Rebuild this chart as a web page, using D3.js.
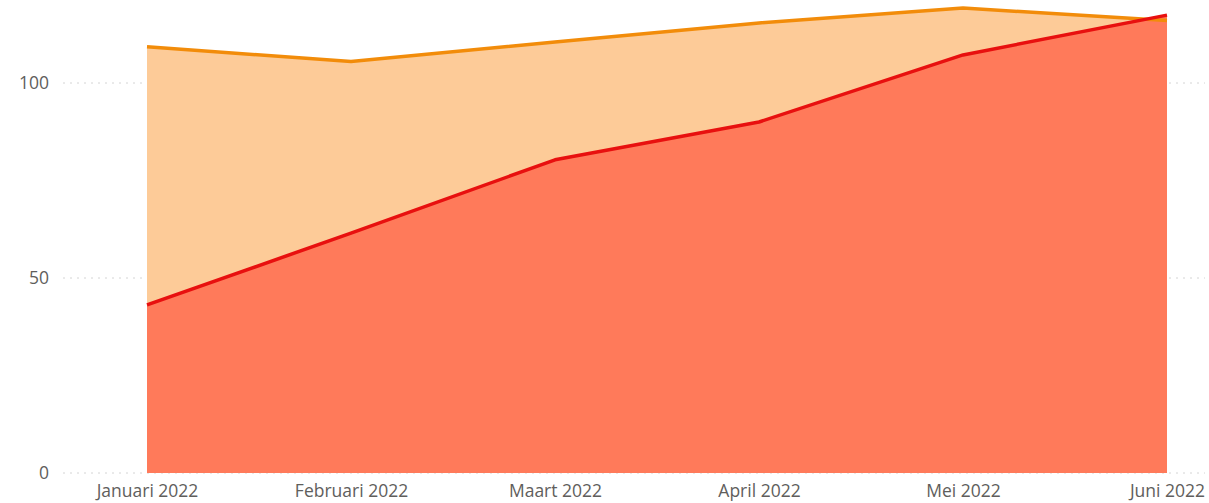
<!DOCTYPE html>
<html>
<head>
<meta charset="utf-8">
<script src="https://cdn.jsdelivr.net/npm/d3@7"></script>
<style>
  html, body { margin: 0; padding: 0; background: #fff; }
  svg { display: block; }
  .tick text { font-family: "Segoe UI", "Open Sans", "Noto Sans", sans-serif; fill: #605E5C; font-size: 17.5px; }
</style>
</head>
<body>
<svg id="chart" width="1209" height="503"></svg>
<script>
// Monthly values for two series
const months = ["Januari 2022", "Februari 2022", "Maart 2022", "April 2022", "Mei 2022", "Juni 2022"];
const target = [109.3, 105.5, 110.5, 115.4, 119.2, 116.0];
const actual = [43.1, 61.5, 80.3, 90.0, 107.2, 117.4];
const yTicks = [0, 50, 100];

const svg = d3.select("#chart");

const x = d3.scalePoint().domain(months).range([147, 1167]);
const y = d3.scaleLinear().domain([0, 100]).range([473, 83]);

// dotted horizontal gridlines
svg.append("g")
  .selectAll("line")
  .data(yTicks)
  .join("line")
  .attr("x1", 63).attr("x2", 1205)
  .attr("y1", d => y(d)).attr("y2", d => y(d))
  .attr("stroke", "#D4D4D4")
  .attr("stroke-width", 1)
  .attr("stroke-dasharray", "2,5");

const pts = (vals) => months.map((m, i) => [m, vals[i]]);

const area = d3.area().x(d => x(d[0])).y0(y(0)).y1(d => y(d[1]));
const line = d3.line().x(d => x(d[0])).y(d => y(d[1]));

// back series (light orange)
svg.append("path").datum(pts(target)).attr("d", area).attr("fill", "#FDCB98");
// front series (coral red)
svg.append("path").datum(pts(actual)).attr("d", area).attr("fill", "#FF7A5A");

svg.append("path").datum(pts(target)).attr("d", line)
  .attr("fill", "none").attr("stroke", "#F28C0A").attr("stroke-width", 3.5).attr("stroke-linejoin", "round");
svg.append("path").datum(pts(actual)).attr("d", line)
  .attr("fill", "none").attr("stroke", "#E8100F").attr("stroke-width", 3.5).attr("stroke-linejoin", "round");

// axes
const yAxis = svg.append("g").attr("transform", "translate(49,0)")
  .call(d3.axisLeft(y).tickValues(yTicks).tickSize(0).tickPadding(0));
yAxis.select(".domain").remove();

const xAxis = svg.append("g").attr("transform", `translate(0,${y(0)})`)
  .call(d3.axisBottom(x).tickSize(0).tickPadding(12));
xAxis.select(".domain").remove();
</script>
</body>
</html>
